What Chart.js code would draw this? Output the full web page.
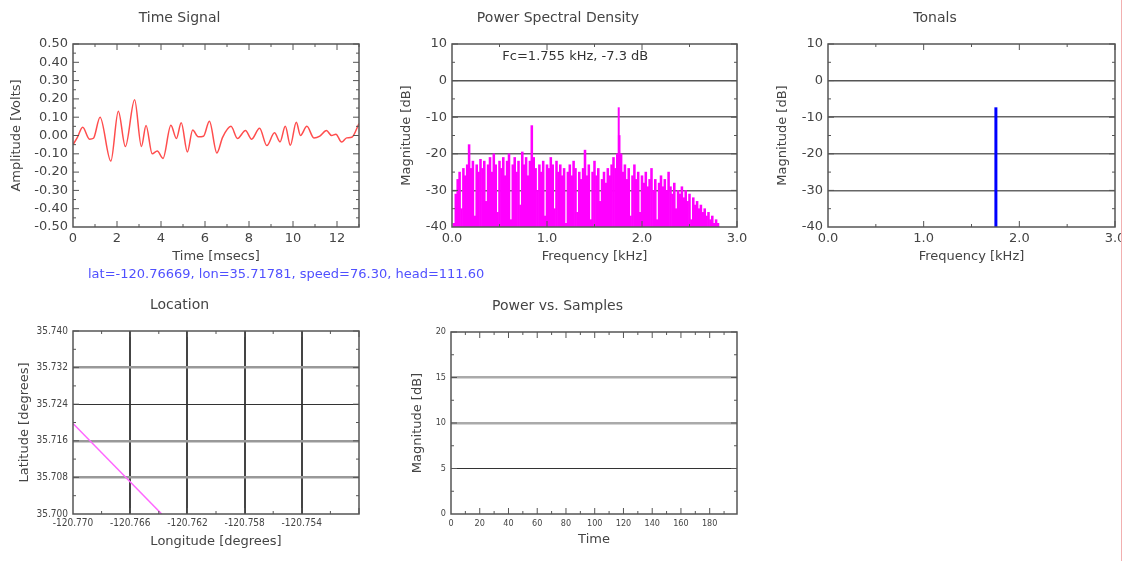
<!DOCTYPE html>
<html>
<head>
<meta charset="utf-8">
<title>Acoustic monitor</title>
<script src="https://cdn.jsdelivr.net/npm/chart.js@4.4.0/dist/chart.umd.min.js"></script>
<style>
  body { margin: 0; background: #fff; width: 1125px; height: 561px; overflow: hidden; position: relative; }
  .panel { position: absolute; }
  #info { position: absolute; left: 88px; top: 266px; font: 13px "DejaVu Sans", sans-serif; color: #5050ff; white-space: nowrap; }
  #edge { position: absolute; left: 1121px; top: 0; width: 1px; height: 561px; background: #f2b0b0; }
</style>
</head>
<body>
<div class="panel" style="left:0;top:0"><canvas id="timeChart" width="385" height="270"></canvas></div>
<div class="panel" style="left:379px;top:0"><canvas id="psdChart" width="384" height="270"></canvas></div>
<div class="panel" style="left:755px;top:0;width:366px;height:270px;overflow:hidden"><canvas id="tonalChart" width="386" height="270"></canvas></div>
<div id="info">lat=-120.76669, lon=35.71781, speed=76.30, head=111.60</div>
<div class="panel" style="left:0;top:287px"><canvas id="locChart" width="385" height="270"></canvas></div>
<div class="panel" style="left:378px;top:288px"><canvas id="powerChart" width="385" height="269"></canvas></div>
<div id="edge"></div>
<script>
// time signal (ms, volts)
var timeMs = [0, 0.2, 0.44, 0.75, 0.93, 1.23, 1.72, 2.06, 2.38, 2.80, 3.11, 3.32, 3.60, 3.83, 4.09,
  4.45, 4.70, 4.92, 5.20, 5.44, 5.69, 5.93, 6.20, 6.54, 6.80, 7.18, 7.48, 7.84, 8.12, 8.48, 8.81,
  9.16, 9.41, 9.65, 9.88, 10.15, 10.34, 10.63, 10.95, 11.22, 11.52, 11.75, 11.95, 12.21, 12.44, 12.67, 13.0];
var timeVolts = [-0.05, -0.01, 0.045, -0.02, -0.015, 0.10, -0.14, 0.133, -0.06, 0.196, -0.06, 0.055, -0.10, -0.085, -0.125,
  0.056, -0.016, 0.07, -0.09, 0.03, -0.007, -0.004, 0.078, -0.095, -0.01, 0.05, -0.016, 0.027, -0.02, 0.04, -0.055,
  0.015, -0.035, 0.05, -0.053, 0.073, 0.0, 0.05, -0.013, -0.003, 0.027, 0.0, 0.007, -0.036, -0.013, -0.01, 0.065];
var timeXTicks = [0, 2, 4, 6, 8, 10, 12];
var timeYTicks = [-0.5, -0.4, -0.3, -0.2, -0.1, 0, 0.1, 0.2, 0.3, 0.4, 0.5];

// spectrum, 0.02 kHz bins from 0.02 to 2.80 kHz (dB)
var psdBinWidth = 0.02;
var psdLevel = [
  -39, -31, -27, -25, -35, -24, -26, -23, -17.5, -24,
  -22, -37, -23, -25, -21.5, -24, -22, -33, -23, -21,
  -25, -20, -23, -36, -22, -24, -21, -26, -22, -20,
  -38, -23, -21, -25, -22, -34, -19.5, -23, -21, -26,
  -22, -12.3, -21, -24, -30, -23, -25, -22, -37, -23,
  -24, -21, -23, -35, -22, -25, -23, -26, -24, -39,
  -25, -23, -26, -22, -24, -36, -25, -27, -24, -19,
  -26, -23, -38, -25, -22, -26, -24, -33, -27, -25,
  -28, -24, -26, -23, -21, -24, -20, -15, -20, -25,
  -23, -27, -24, -37, -26, -23, -27, -25, -36, -26,
  -28, -25, -29, -27, -24, -30, -27, -38, -28, -26,
  -29, -27, -30, -25, -29, -31, -28, -35, -30, -31,
  -29, -32, -30, -33, -31, -38, -32, -34, -33, -35,
  -34, -36, -35, -37, -36, -38, -37, -39, -38, -39
];
var psdFreq = psdLevel.map(function(v, i) { return +((i + 1) * psdBinWidth).toFixed(2); });
var freqTicks = [0, 1, 2, 3];
var dbTicks = [-40, -30, -20, -10, 0, 10];

// strongest tonal
var fcFreq = 1.755;
var fcLevel = -7.3;
var dbFloor = -40;

// vehicle track
var trackLon = [-120.7700, -120.7638];
var trackLat = [35.7198, 35.7000];
var lonTicks = [-120.770, -120.766, -120.762, -120.758, -120.754];
var latTicks = [35.700, 35.708, 35.716, 35.724, 35.732, 35.740];

// power history (no samples yet)
var powerTime = [];
var powerDb = [];
var sampleTicks = [0, 20, 40, 60, 80, 100, 120, 140, 160, 180];
var powerTicks = [0, 5, 10, 15, 20];

Chart.defaults.font.family = '"DejaVu Sans", sans-serif';
Chart.defaults.color = '#444';
Chart.defaults.animation = false;

var smallFont = { family: '"DejaVu Sans Condensed", "DejaVu Sans", sans-serif', size: 10 };

function toPoints(xs, ys) {
  return xs.map(function(x, i) { return { x: x, y: ys[i] }; });
}

// vertical stick from the floor up to a level
function stick(x, level) {
  return [{ x: x, y: dbFloor }, { x: x, y: level }];
}

// plot frame with inward tick marks on all four sides
var framePlugin = {
  id: 'frame',
  afterDatasetsDraw: function(chart, args, opts) {
    var a = chart.chartArea, ctx = chart.ctx;
    ctx.save();
    ctx.strokeStyle = '#555';
    ctx.lineWidth = 1;
    function line(x1, y1, x2, y2) {
      ctx.beginPath(); ctx.moveTo(x1, y1); ctx.lineTo(x2, y2); ctx.stroke();
    }
    function marks(scale, step, major, horizontal) {
      var n = Math.round((scale.max - scale.min) / step + 1e-6);
      for (var k = 1; k <= n; k++) {
        var v = scale.min + k * step;
        if (v > scale.max + step * 1e-6) break;
        var isMajor = Math.abs(Math.round((v - scale.min) / major) * major - (v - scale.min)) < step * 1e-3;
        var len = isMajor ? 6 : 3;
        var p = scale.getPixelForValue(v);
        if (horizontal) { line(p, a.bottom, p, a.bottom - len); line(p, a.top, p, a.top + len); }
        else { line(a.left, p, a.left + len, p); line(a.right, p, a.right - len, p); }
      }
    }
    marks(chart.scales.x, opts.xMinor, opts.xMajor, true);
    marks(chart.scales.y, opts.yMinor, opts.yMajor, false);
    ctx.lineWidth = 1.5;
    ctx.strokeRect(a.left, a.top, a.right - a.left, a.bottom - a.top);
    ctx.restore();
  }
};

// centre-frequency label inside the spectrum plot
var fcLabelPlugin = {
  id: 'fcLabel',
  afterDraw: function(chart, args, opts) {
    if (!opts.text) return;
    var ctx = chart.ctx;
    ctx.save();
    ctx.font = '13px "DejaVu Sans", sans-serif';
    ctx.fillStyle = '#333';
    ctx.textBaseline = 'middle';
    ctx.fillText(opts.text, chart.scales.x.getPixelForValue(opts.x), chart.scales.y.getPixelForValue(opts.y));
    ctx.restore();
  }
};

Chart.register(framePlugin, fcLabelPlugin);

function setTicks(values) {
  return function(scale) {
    scale.ticks = values.map(function(v) { return { value: v }; });
  };
}

function gridAt(lines) {
  // lines: [{v, color, width}]
  function find(ctx) {
    for (var i = 0; i < lines.length; i++) {
      if (ctx.tick && Math.abs(ctx.tick.value - lines[i].v) < 1e-7) return lines[i];
    }
    return null;
  }
  return {
    drawTicks: false,
    color: function(ctx) { var l = find(ctx); return l ? l.color : 'rgba(0,0,0,0)'; },
    lineWidth: function(ctx) { var l = find(ctx); return l ? l.width : 0; }
  };
}

function baseOptions(o) {
  return {
    responsive: false,
    layout: { padding: { left: 0, right: 26, top: 0, bottom: 0 } },
    plugins: {
      legend: { display: false },
      tooltip: { enabled: false },
      title: {
        display: true, text: o.title, color: '#444',
        font: { size: 14, weight: 'normal' },
        padding: { top: 10, bottom: 17.2 }
      },
      frame: o.frame,
      fcLabel: o.fcLabel || {}
    },
    scales: {
      x: {
        type: 'linear', min: o.xMin, max: o.xMax, offset: false,
        afterBuildTicks: setTicks(o.xTicks),
        afterFit: function(s) { s.height = o.xHeight; },
        grid: o.xGrid || { display: false, drawTicks: false },
        border: { display: false },
        ticks: { autoSkip: false, maxRotation: 0, padding: o.xPad, font: o.tickFont || { size: 13 }, color: '#444', callback: o.xFmt },
        title: { display: true, text: o.xTitle, color: '#444', font: { size: 13 }, padding: { top: 0, bottom: o.xTitlePad } }
      },
      y: {
        type: 'linear', min: o.yMin, max: o.yMax,
        afterBuildTicks: setTicks(o.yTicks),
        afterFit: function(s) { s.width = 73; },
        grid: o.yGrid || { display: false, drawTicks: false },
        border: { display: false },
        ticks: { autoSkip: false, padding: 5, font: o.tickFont || { size: 13 }, color: '#444', callback: o.yFmt },
        title: { display: true, text: o.yTitle, color: '#444', font: { size: 13 }, padding: { top: o.yTitlePad, bottom: 0 } }
      }
    }
  };
}

// Time Signal
new Chart(document.getElementById('timeChart'), {
  type: 'line',
  data: { datasets: [{
    data: toPoints(timeMs, timeVolts),
    borderColor: '#ff4d4d', borderWidth: 1.5, pointRadius: 0,
    cubicInterpolationMode: 'monotone'
  }] },
  options: baseOptions({
    title: 'Time Signal',
    xMin: 0, xMax: 13, xTicks: timeXTicks, xTitle: 'Time [msecs]',
    yMin: -0.5, yMax: 0.5, yTicks: timeYTicks, yTitle: 'Amplitude [Volts]',
    xFmt: function(v) { return String(v); },
    yFmt: function(v) { return v.toFixed(2); },
    xHeight: 43, xPad: 4, xTitlePad: 6, yTitlePad: 9,
    frame: { xMinor: 1, xMajor: 2, yMinor: 0.05, yMajor: 0.1 }
  })
});

var dbGrid = gridAt([
  { v: 0, color: '#555', width: 1.5 }, { v: -10, color: '#666', width: 1.5 },
  { v: -20, color: '#666', width: 1.5 }, { v: -30, color: '#666', width: 1.5 }
]);

// Power Spectral Density
new Chart(document.getElementById('psdChart'), {
  type: 'bar',
  data: { datasets: [
    { data: toPoints(psdFreq, psdLevel), base: dbFloor, backgroundColor: '#ff00ff', borderWidth: 0,
      barPercentage: 1, categoryPercentage: 1, grouped: false },
    { type: 'line', data: stick(fcFreq, fcLevel), borderColor: '#ff00ff', borderWidth: 2, pointRadius: 0 }
  ] },
  options: baseOptions({
    title: 'Power Spectral Density',
    xMin: 0, xMax: 3, xTicks: freqTicks, xTitle: 'Frequency [kHz]',
    yMin: -40, yMax: 10, yTicks: dbTicks, yTitle: 'Magnitude [dB]',
    xFmt: function(v) { return v.toFixed(1); },
    yFmt: function(v) { return String(v); },
    xHeight: 43, xPad: 4, xTitlePad: 6, yTitlePad: 20,
    yGrid: dbGrid,
    frame: { xMinor: 0.5, xMajor: 1, yMinor: 5, yMajor: 10 },
    fcLabel: { text: 'Fc=' + fcFreq.toFixed(3) + ' kHz, ' + fcLevel.toFixed(1) + ' dB', x: 0.53, y: 6.6 }
  })
});

// Tonals
new Chart(document.getElementById('tonalChart'), {
  type: 'line',
  data: { datasets: [
    { data: stick(fcFreq, fcLevel), borderColor: '#0000ff', borderWidth: 3, pointRadius: 0 }
  ] },
  options: baseOptions({
    title: 'Tonals',
    xMin: 0, xMax: 3, xTicks: freqTicks, xTitle: 'Frequency [kHz]',
    yMin: -40, yMax: 10, yTicks: dbTicks, yTitle: 'Magnitude [dB]',
    xFmt: function(v) { return v.toFixed(1); },
    yFmt: function(v) { return String(v); },
    xHeight: 43, xPad: 4, xTitlePad: 6, yTitlePad: 20,
    yGrid: dbGrid,
    frame: { xMinor: 0.5, xMajor: 1, yMinor: 5, yMajor: 10 }
  })
});

// Location
new Chart(document.getElementById('locChart'), {
  type: 'line',
  data: { datasets: [{
    data: toPoints(trackLon, trackLat),
    borderColor: '#ff66ff', borderWidth: 1.5, pointRadius: 0
  }] },
  options: baseOptions({
    title: 'Location',
    xMin: -120.770, xMax: -120.750, xTicks: lonTicks, xTitle: 'Longitude [degrees]',
    yMin: 35.700, yMax: 35.740, yTicks: latTicks, yTitle: 'Latitude [degrees]',
    xFmt: function(v) { return v.toFixed(3); },
    yFmt: function(v) { return v.toFixed(3); },
    tickFont: smallFont,
    xHeight: 43, xPad: 3, xTitlePad: 8, yTitlePad: 17,
    xGrid: gridAt([
      { v: -120.766, color: '#444', width: 2 }, { v: -120.762, color: '#444', width: 2 },
      { v: -120.758, color: '#444', width: 2 }, { v: -120.754, color: '#444', width: 2 }
    ]),
    yGrid: gridAt([
      { v: 35.708, color: '#999', width: 2.5 }, { v: 35.716, color: '#999', width: 2.5 },
      { v: 35.724, color: '#333', width: 1 }, { v: 35.732, color: '#999', width: 2.5 }
    ]),
    frame: { xMinor: 0.002, xMajor: 0.004, yMinor: 0.004, yMajor: 0.008 }
  })
});

// Power vs. Samples
new Chart(document.getElementById('powerChart'), {
  type: 'line',
  data: { datasets: [{
    data: toPoints(powerTime, powerDb),
    borderColor: '#ff4d4d', borderWidth: 1.5, pointRadius: 0
  }] },
  options: baseOptions({
    title: 'Power vs. Samples',
    xMin: 0, xMax: 199, xTicks: sampleTicks, xTitle: 'Time',
    yMin: 0, yMax: 20, yTicks: powerTicks, yTitle: 'Magnitude [dB]',
    xFmt: function(v) { return String(v); },
    yFmt: function(v) { return String(v); },
    tickFont: { family: '"DejaVu Sans Condensed", "DejaVu Sans", sans-serif', size: 9 },
    xHeight: 43, xPad: 4, xTitlePad: 10, yTitlePad: 32,
    yGrid: gridAt([
      { v: 5, color: '#333', width: 1 }, { v: 10, color: '#aaa', width: 2.5 }, { v: 15, color: '#aaa', width: 2.5 }
    ]),
    frame: { xMinor: 10, xMajor: 20, yMinor: 2.5, yMajor: 5 }
  })
});
</script>
</body>
</html>
